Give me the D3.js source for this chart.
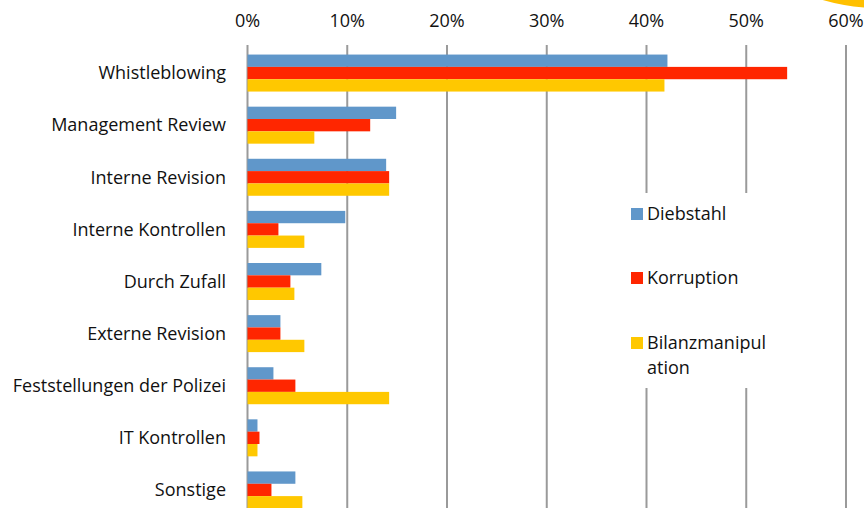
<!DOCTYPE html>
<html>
<head>
<meta charset="utf-8">
<script src="https://cdn.jsdelivr.net/npm/d3@7"></script>
<style>
  body { margin: 0; background: #fff; }
  text { font-family: "Open Sans", Lato, sans-serif; fill: #111; }
</style>
</head>
<body>
<div id="chart"></div>
<script>
// data (shares in %)
var categories = ["Whistleblowing", "Management Review", "Interne Revision", "Interne Kontrollen",
  "Durch Zufall", "Externe Revision", "Feststellungen der Polizei", "IT Kontrollen", "Sonstige"];
var seriesNames = ["Diebstahl", "Korruption", "Bilanzmanipulation"];
var diebstahl = [42.1, 14.9, 13.9, 9.8, 7.4, 3.3, 2.6, 1.0, 4.8];
var korruption = [54.1, 12.3, 14.2, 3.1, 4.3, 3.3, 4.8, 1.2, 2.4];
var bilanz = [41.8, 6.7, 14.2, 5.7, 4.7, 5.7, 14.2, 1.0, 5.5];
var ticks = [0, 10, 20, 30, 40, 50, 60];
var colors = ["#6097ca", "#ff2600", "#ffc800"];

var W = 864, H = 508;
var series = [diebstahl, korruption, bilanz];
var fontSize = "18px";

var svg = d3.select("#chart").append("svg")
  .attr("width", W).attr("height", H);

// scales
var x = d3.scaleLinear().domain([0, 60]).range([247.5, 846]);
var y = d3.scaleBand().domain(categories).range([47, 516]).paddingInner(0.29).paddingOuter(0.145);
var ySub = d3.scaleBand().domain(d3.range(3)).range([0, y.bandwidth()]);

// gridlines
svg.append("g").selectAll("line")
  .data(ticks).enter().append("line")
  .attr("x1", function(d) { return x(d); })
  .attr("x2", function(d) { return x(d); })
  .attr("y1", 45).attr("y2", H)
  .attr("stroke", "#9a9a9a").attr("stroke-width", 2);

// tick labels
svg.append("g").selectAll("text")
  .data(ticks).enter().append("text")
  .attr("x", function(d) { return x(d); })
  .attr("y", 27)
  .attr("text-anchor", "middle")
  .style("font-size", fontSize)
  .text(function(d) { return d + "%"; });

// bars
var groups = svg.append("g").selectAll("g")
  .data(categories).enter().append("g")
  .attr("transform", function(d) { return "translate(0," + y(d) + ")"; });

groups.selectAll("rect")
  .data(function(d, i) { return series.map(function(s, j) { return { v: s[i], j: j }; }); })
  .enter().append("rect")
  .attr("x", x(0))
  .attr("y", function(d) { return ySub(d.j); })
  .attr("width", function(d) { return x(d.v) - x(0); })
  .attr("height", ySub.bandwidth())
  .attr("fill", function(d) { return colors[d.j]; });

// category labels
svg.append("g").selectAll("text")
  .data(categories).enter().append("text")
  .attr("x", 226)
  .attr("y", function(d) { return y(d) + y.bandwidth() / 2; })
  .attr("dy", "0.35em")
  .attr("text-anchor", "end")
  .style("font-size", fontSize)
  .text(function(d) { return d; });

// legend (white box over the gridlines)
var legend = svg.append("g");
legend.append("rect")
  .attr("x", 615).attr("y", 193).attr("width", 185).attr("height", 195)
  .attr("fill", "#fff");
var legendY = [214, 278, 343];
var legendLines = [["Diebstahl"], ["Korruption"], ["Bilanzmanipul", "ation"]];
legendY.forEach(function(ly, i) {
  legend.append("rect")
    .attr("x", 631).attr("y", ly - 6).attr("width", 12).attr("height", 12)
    .attr("fill", colors[i]);
  var t = legend.append("text")
    .attr("x", 647).attr("y", ly)
    .style("font-size", fontSize);
  legendLines[i].forEach(function(line, k) {
    t.append("tspan").attr("x", 647).attr("dy", k == 0 ? "0.35em" : "25px").text(line);
  });
});

// yellow arc in the top right corner
svg.append("path")
  .attr("d", d3.arc()({ innerRadius: 198, outerRadius: 208, startAngle: Math.PI - 0.1, endAngle: Math.PI + 0.4 }))
  .attr("transform", "translate(880,-200)")
  .attr("fill", "#ffc000");
</script>
</body>
</html>
